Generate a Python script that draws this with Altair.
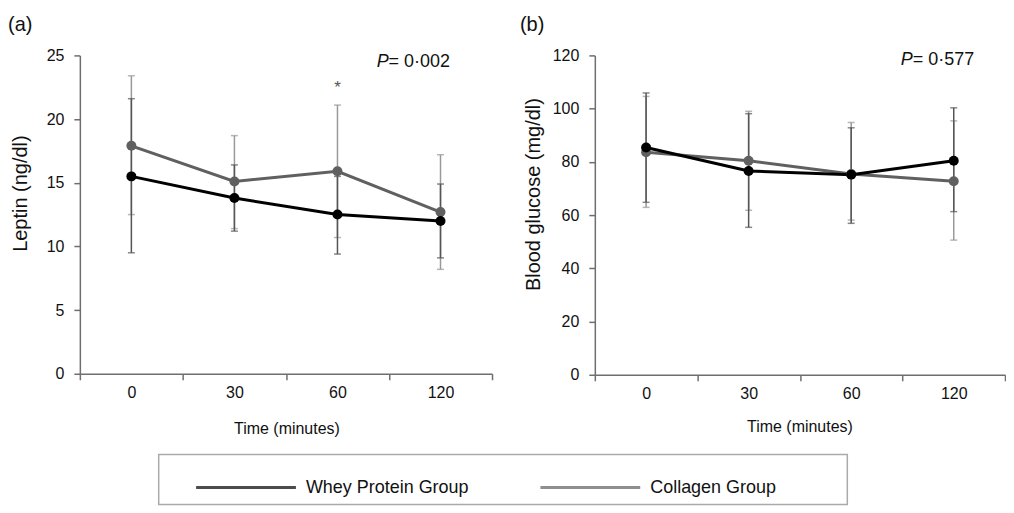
import altair as alt
import pandas as pd

# ---------------- data ----------------
times = ["0", "30", "60", "120"]
groups = ["Whey Protein Group", "Collagen Group"]

leptin_whey = [15.5, 13.8, 12.5, 12.0]
leptin_whey_lo = [9.5, 11.2, 9.4, 9.1]
leptin_whey_hi = [21.6, 16.4, 15.5, 14.9]
leptin_coll = [17.9, 15.1, 15.9, 12.7]
leptin_coll_lo = [12.5, 11.4, 10.7, 8.2]
leptin_coll_hi = [23.4, 18.7, 21.1, 17.2]

glucose_whey = [85.4, 76.6, 75.2, 80.4]
glucose_whey_lo = [64.8, 55.4, 56.9, 61.3]
glucose_whey_hi = [105.9, 98.1, 92.8, 100.3]
glucose_coll = [83.6, 80.4, 75.4, 72.7]
glucose_coll_lo = [62.9, 61.8, 58.1, 50.6]
glucose_coll_hi = [104.6, 99.0, 94.8, 95.4]

leptin_p = "0·002"
glucose_p = "0·577"

# ---------------- styles ----------------
FONT = "Liberation Sans"
group_colors = ["#000000", "#606060"]
errbar_colors = ["#555555", "#999999"]
AXIS_GREY = "#6e6e6e"


def long_table(whey, whey_lo, whey_hi, coll, coll_lo, coll_hi):
    rows = []
    # collagen first so that whey points are drawn on top
    for g, m, lo, hi in [(groups[1], coll, coll_lo, coll_hi),
                         (groups[0], whey, whey_lo, whey_hi)]:
        for t, a, b, c in zip(times, m, lo, hi):
            rows.append({"time": t, "group": g, "mean": a, "lo": b, "hi": c})
    return pd.DataFrame(rows)


def panel(df, ymax, ystep, ytitle, letter, letter_dx, pval, p_y, p_dx,
          width, height, ytitle_xy, xtitle_xy, star_y=None):
    x = alt.X(
        "time:N", sort=times,
        scale=alt.Scale(type="band", paddingInner=0, paddingOuter=0),
        axis=alt.Axis(title="Time (minutes)", labelAngle=0, tickBand="extent",
                      tickSize=6, labelPadding=5, labelFontSize=16,
                      titleFontSize=16, titleX=xtitle_xy[0], titleY=xtitle_xy[1],
                      titleAlign="center", titleBaseline="middle"),
    )

    def yenc(field):
        return alt.Y(
            f"{field}:Q",
            scale=alt.Scale(domain=[0, ymax], nice=False, zero=True),
            axis=alt.Axis(title=ytitle, values=list(range(0, ymax + 1, ystep)),
                          tickSize=6, labelPadding=10, labelFontSize=16,
                          titleFontSize=20, titleX=ytitle_xy[0], titleY=ytitle_xy[1],
                          titleAngle=270, titleAlign="center", titleBaseline="middle"),
        )

    color = alt.Color("group:N", scale=alt.Scale(domain=groups, range=group_colors),
                      legend=None)
    base = alt.Chart(df)
    layers = []
    for g, c in [(groups[1], errbar_colors[1]), (groups[0], errbar_colors[0])]:
        sub = base.transform_filter(alt.datum.group == g)
        layers.append(sub.mark_rule(color=c, strokeWidth=1.5)
                      .encode(x=x, y=yenc("lo"), y2="hi:Q"))
        layers.append(sub.mark_tick(color=c, size=7, thickness=1.5)
                      .encode(x=x, y=yenc("lo")))
        layers.append(sub.mark_tick(color=c, size=7, thickness=1.5)
                      .encode(x=x, y=yenc("hi")))
    layers.append(base.mark_line(strokeWidth=3).encode(x=x, y=yenc("mean"), color=color))
    layers.append(base.mark_point(filled=True, size=100, opacity=1)
                  .encode(x=x, y=yenc("mean"), color=color))

    ann = alt.Chart(pd.DataFrame({"time": [times[-1]], "y": [p_y]}))
    layers.append(ann.mark_text(text="P", fontStyle="italic", align="left",
                                baseline="middle", fontSize=18, dx=p_dx, color="#111")
                  .encode(x=x, y=yenc("y")))
    layers.append(ann.mark_text(text="= " + pval, align="left", baseline="middle",
                                fontSize=18, dx=p_dx + 12, color="#111")
                  .encode(x=x, y=yenc("y")))
    if star_y is not None:
        star = alt.Chart(pd.DataFrame({"time": [times[2]], "y": [star_y]}))
        layers.append(star.mark_text(text="*", align="center", baseline="alphabetic",
                                     fontSize=17, dy=7, color="#555")
                      .encode(x=x, y=yenc("y")))

    return alt.layer(*layers).properties(
        width=width, height=height,
        title=alt.TitleParams(text=letter, anchor="start", frame="group",
                              dx=letter_dx, fontSize=20, fontWeight="normal",
                              baseline="bottom", offset=-8, color="#111"),
    )


leptin_df = long_table(leptin_whey, leptin_whey_lo, leptin_whey_hi,
                       leptin_coll, leptin_coll_lo, leptin_coll_hi)
glucose_df = long_table(glucose_whey, glucose_whey_lo, glucose_whey_hi,
                        glucose_coll, glucose_coll_lo, glucose_coll_hi)

left = panel(leptin_df, 25, 5, "Leptin (ng/dl)", "(a)", -72, leptin_p, 24.5, -64,
             413, 319, (-59, 138), (207, 55), star_y=22.6)
right = panel(glucose_df, 120, 20, "Blood glucose (mg/dl)", "(b)", -75, glucose_p, 118.4, -53,
              411, 320, (-61, 139), (205, 52))

top = alt.hconcat(left, right, spacing=27).resolve_scale(x="independent", y="independent")

# ---------------- legend box ----------------
leg_df = pd.DataFrame({"group": groups})
lx = alt.X("group:N", sort=groups,
           scale=alt.Scale(type="band", paddingInner=0, paddingOuter=0), axis=None)
lcol = alt.Color("group:N", scale=alt.Scale(domain=groups, range=group_colors), legend=None)
leg_lines = alt.Chart(leg_df).mark_tick(orient="horizontal", size=100, thickness=3,
                                        xOffset=-85, yOffset=8).encode(x=lx, color=lcol)
leg_text = alt.Chart(leg_df).mark_text(align="left", baseline="middle", fontSize=18,
                                       dx=-25, dy=8, color="#111").encode(x=lx, text="group:N")
legend = alt.layer(leg_lines, leg_text).properties(
    width=690, height=50,
    view=alt.ViewBackground(stroke="#aaaaaa", strokeWidth=1.5),
)
spacer = alt.Chart(pd.DataFrame({"g": [0]})).mark_point(opacity=0).properties(
    width=78, height=50)
bottom = alt.hconcat(spacer, legend, spacing=0)

chart = (
    alt.vconcat(top, bottom, spacing=17)
    .properties(padding={"top": 7, "left": 0, "right": 0, "bottom": 0})
    .configure(font=FONT)
    .configure_view(strokeWidth=0)
    .configure_axis(domainColor=AXIS_GREY, domainWidth=1.5, tickColor=AXIS_GREY,
                    tickWidth=1.5, labelColor="#111", titleColor="#111",
                    titleFontWeight="normal", grid=False, labelFont=FONT, titleFont=FONT)
)

chart.save("out.html", embed_options={"renderer": "svg", "actions": False})
